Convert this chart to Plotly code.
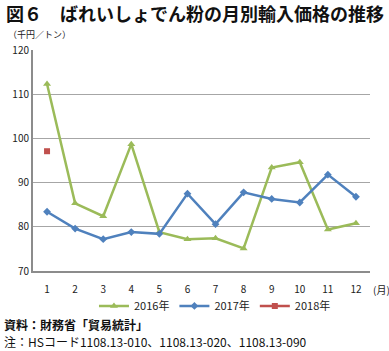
import plotly.graph_objects as go

months = list(range(1, 13))
tick_labels = [str(m) for m in months]
s2016 = [112.3, 85.3, 82.4, 98.7, 78.8, 77.2, 77.4, 75.1, 93.4, 94.6, 79.4, 80.8]
s2017 = [83.4, 79.6, 77.2, 78.8, 78.4, 87.5, 80.6, 87.8, 86.3, 85.5, 91.8, 86.8]
s2018_months = [1]
s2018 = [97.1]

FONT = "Noto Sans CJK JP"
fig = go.Figure()
fig.add_trace(go.Scatter(x=months, y=s2016, name="2016年", mode="lines+markers",
                         line=dict(color="#9BBB59", width=2.5),
                         marker=dict(symbol="triangle-up", size=7, color="#9BBB59")))
fig.add_trace(go.Scatter(x=months, y=s2017, name="2017年", mode="lines+markers",
                         line=dict(color="#4F81BD", width=2.5),
                         marker=dict(symbol="diamond", size=6, color="#4F81BD")))
fig.add_trace(go.Scatter(x=s2018_months, y=s2018, name="2018年", mode="lines+markers",
                         line=dict(color="#C0504D", width=2.5),
                         marker=dict(symbol="square", size=6, color="#C0504D")))

fig.update_layout(
    width=389, height=351,
    margin=dict(l=31, r=19, t=50, b=80),
    paper_bgcolor="white", plot_bgcolor="white",
    font=dict(family=FONT, size=10, color="#222"),
    showlegend=True,
    legend=dict(orientation="h", x=0.54, xanchor="center", y=-0.158, yanchor="middle",
                font=dict(size=11, family=FONT), itemwidth=30, tracegroupgap=0,
                bgcolor="rgba(0,0,0,0)"),
    xaxis=dict(range=[0.5, 12.5], tickvals=months, ticktext=tick_labels,
               showgrid=False, showline=True, linecolor="#8C8C8C", linewidth=2,
               ticks="", zeroline=False, tickfont=dict(size=10), ticklabelstandoff=8),
    yaxis=dict(range=[70, 120], dtick=10, showgrid=True, gridcolor="#A6A6A6", gridwidth=1,
               showline=True, linecolor="#8C8C8C", linewidth=2, ticks="",
               zeroline=False, tickfont=dict(size=10)),
    annotations=[
        dict(text="<b>図６　ばれいしょでん粉の月別輸入価格の推移</b>", x=0, y=1, xref="paper", yref="paper",
             xanchor="left", yanchor="middle", showarrow=False, font=dict(size=18, family=FONT, color="#111"),
             xshift=-29, yshift=37),
        dict(text="（千円／トン）", x=0, y=1, xref="paper", yref="paper",
             xanchor="left", yanchor="middle", showarrow=False, font=dict(size=9, family=FONT),
             xshift=-27, yshift=16),
        dict(text="(月)", x=1, y=0, xref="paper", yref="paper",
             xanchor="left", yanchor="middle", showarrow=False, font=dict(size=10, family=FONT),
             xshift=1, yshift=-18),
        dict(text="<b>資料：財務省「貿易統計」</b>", x=0, y=0, xref="paper", yref="paper",
             xanchor="left", yanchor="middle", showarrow=False, font=dict(size=12, family=FONT, color="#111"),
             xshift=-31, yshift=-53),
        dict(text="注：HSコード1108.13-010、1108.13-020、1108.13-090", x=0, y=0, xref="paper", yref="paper",
             xanchor="left", yanchor="middle", showarrow=False, font=dict(size=12, family=FONT, color="#111"),
             xshift=-31, yshift=-70),
    ],
)
fig.write_html("out.html")
